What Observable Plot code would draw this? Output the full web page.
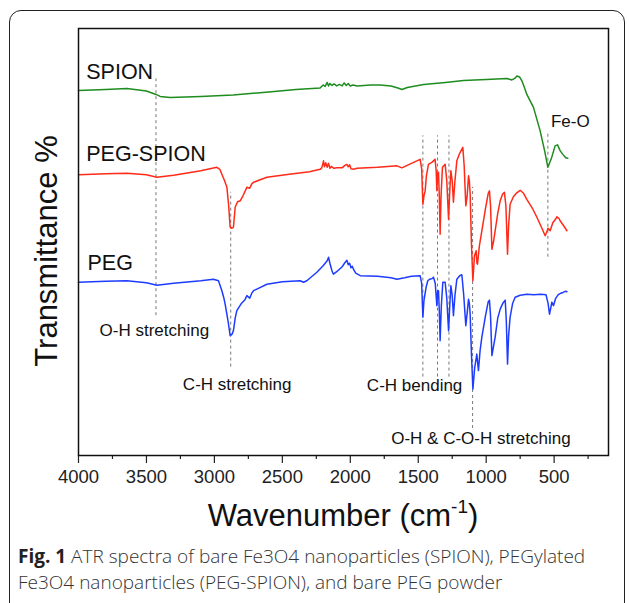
<!DOCTYPE html>
<html>
<head>
<meta charset="utf-8">
<script src="https://cdn.jsdelivr.net/npm/d3@7"></script>
<script src="https://cdn.jsdelivr.net/npm/@observablehq/plot@0.6"></script>
<style>
  html, body { margin: 0; padding: 0; background: #fff; width: 629px; height: 603px; overflow: hidden; }
  #wrap { position: relative; width: 629px; height: 603px; }
  #border { position: absolute; left: 9px; top: 10px; width: 616px; height: 650px; border: 1.5px solid #222; border-radius: 12px; box-sizing: border-box; pointer-events: none; }
  #chart { position: absolute; left: 0; top: 0; }
  #caption { position: absolute; left: 18px; top: 543px; width: 605px; font-family: "Open Sans", sans-serif; font-size: 19px; line-height: 26px; color: #333; white-space: nowrap; }
  #caption .lead { font-weight: 700; color: #222; }
  #caption .body { font-weight: 300; }
</style>
</head>
<body>
<div id="wrap">
  <div id="chart"></div>
  <div id="border"></div>
  <div id="caption"><span class="lead">Fig. 1</span><span class="body"> ATR spectra of bare Fe3O4 nanoparticles (SPION), PEGylated</span><br><span class="body">Fe3O4 nanoparticles (PEG-SPION), and bare PEG powder</span></div>
</div>
<script>
// ---- Data (wavenumber in cm^-1, transmittance in arbitrary offset units) ----
const spionWn = [4000,3800,3644,3500,3430,3399,3325,3100,2862,2600,2400,2222,2200,2185,2170,2160,2150,2135,2120,2100,2080,2060,2045,2030,2015,2000,1980,1950,1850,1781,1700,1650,1620,1580,1460,1300,1167,1000,848,811,790,774,755,737,720,701,652,603,570,546,520,493,475,455,436,415,400];
const spionT  = [73.1,73.3,73.5,73.0,72.3,71.9,71.7,71.9,72.2,72.8,73.3,73.6,74.2,73.9,74.7,74.0,74.5,74.1,74.4,74.0,74.3,74.0,74.6,74.1,74.5,74.0,74.2,74.0,74.2,74.2,74.0,73.6,73.3,73.7,74.3,74.7,75.1,75.3,75.5,75.2,75.5,76.0,75.8,75.0,73.8,72.3,69.7,65.0,61.0,57.7,59.5,62.0,62.2,61.0,60.3,59.6,59.5];

const pegSpionWn = [4000,3800,3644,3500,3423,3300,3100,2982,2960,2945,2925,2908,2895,2884,2870,2860,2847,2830,2810,2790,2761,2740,2725,2712,2614,2450,2300,2222,2210,2197,2190,2180,2170,2160,2150,2140,2120,2100,2060,2040,2025,2015,2005,1995,1977,1950,1800,1700,1657,1620,1550,1486,1475,1466,1458,1449,1440,1425,1400,1376,1368,1363,1357,1351,1345,1339,1332,1322,1302,1290,1277,1268,1260,1250,1241,1230,1216,1195,1172,1162,1150,1140,1130,1124,1118,1108,1098,1086,1074,1068,1064,1050,1032,1005,985,976,968,958,945,934,915,897,880,866,855,843,835,824,800,775,750,725,701,660,627,590,566,555,545,535,529,510,490,480,465,456,430,406];
const pegSpionT  = [56.2,56.4,56.5,56.2,55.7,56.1,57.0,57.7,57.3,56.3,55.0,53.7,50.0,45.7,45.5,45.7,49.7,50.8,51.0,52.0,53.7,53.5,54.4,54.7,55.7,56.3,56.8,57.3,57.6,59.0,57.8,58.6,57.7,58.5,57.5,57.9,57.5,57.6,57.6,58.1,58.3,57.8,58.2,57.4,57.3,57.5,57.7,57.9,58.0,57.6,58.5,59.3,57.5,50.3,52.0,53.0,56.0,58.3,58.7,59.3,57.0,53.0,56.5,56.7,52.0,44.3,52.0,57.7,58.3,55.0,47.3,53.0,57.0,55.0,50.7,55.0,59.0,60.5,61.7,58.0,50.0,52.0,56.0,55.0,52.3,42.0,35.0,40.0,41.0,38.5,38.3,42.0,45.0,49.5,52.5,53.0,50.0,41.3,43.0,45.0,48.5,51.0,52.3,52.7,50.0,40.3,46.0,50.3,51.8,52.6,53.1,52.5,51.3,49.5,47.7,45.5,44.0,44.7,45.5,45.2,45.0,46.6,47.3,47.8,47.5,47.0,46.0,45.0];

const pegWn = [4000,3800,3644,3500,3423,3300,3100,3007,2970,2945,2930,2921,2900,2884,2870,2860,2847,2835,2800,2775,2761,2740,2725,2712,2614,2500,2369,2344,2320,2246,2200,2170,2160,2150,2135,2124,2100,2060,2040,2025,2015,2005,1995,1985,1977,1960,1927,1800,1700,1657,1600,1550,1486,1475,1466,1458,1442,1430,1417,1400,1388,1375,1363,1357,1351,1345,1339,1330,1319,1302,1290,1277,1268,1260,1250,1241,1230,1216,1195,1179,1165,1150,1140,1130,1124,1118,1108,1098,1085,1069,1057,1045,1032,1005,985,976,968,958,945,934,915,897,875,860,852,843,835,824,805,787,750,701,650,600,560,545,534,525,517,505,490,470,450,431,415,406];
const pegT  = [34.7,34.9,35.0,34.6,34.1,34.5,35.0,35.3,35.0,33.0,31.5,30.3,27.0,24.0,24.3,25.0,27.5,29.0,30.5,31.2,32.0,31.5,32.5,33.0,34.3,34.8,35.0,34.7,35.0,36.7,38.0,39.0,39.7,38.5,37.0,36.3,36.8,37.8,38.6,39.1,38.2,38.5,37.6,37.9,37.3,36.5,36.0,35.9,35.6,35.3,35.6,35.9,36.0,34.5,27.7,31.0,33.7,35.0,35.3,35.4,35.7,34.5,30.0,33.0,33.0,29.0,23.0,30.0,34.7,34.7,31.5,25.0,30.0,34.0,32.0,28.0,32.0,35.3,36.0,36.2,32.0,26.0,28.5,31.3,30.5,28.3,20.0,13.3,17.5,20.3,17.0,21.0,23.7,28.0,30.8,31.1,28.0,20.0,22.0,23.7,27.5,29.3,30.6,31.1,27.0,18.3,24.0,27.7,30.5,31.7,32.1,32.3,32.2,32.3,32.2,30.5,28.3,29.5,30.7,30.0,31.4,32.2,32.5,32.7,32.9,32.8];

// Dashed assignment lines
const markerWn     = [3430, 2880, 1466, 1358, 1274, 1100, 546];
const markerTop    = [75.4, 52.7, 64.0, 64.0, 64.0, 53.7, 64.4];
const markerBottom = [28.0, 17.7, 15.7, 15.7, 15.7, 5.4, 39.7];

// Series labels
const seriesNames = ["SPION", "PEG-SPION", "PEG"];
const seriesColors = ["#1e8c1e", "#ff2a18", "#1e3cff"];
const seriesLabelWn = [3943, 3943, 3934];
const seriesLabelT  = [75.3, 58.9, 37.1];

// Band annotations
const bandText = ["O-H stretching", "C-H stretching", "C-H bending", "O-H & C-O-H stretching", "Fe-O"];
const bandWn   = [3845, 3232, 1878, 1699, 524];
const bandT    = [24.0, 13.1, 12.9, 2.3, 65.7];

const majorTicks = [4000, 3500, 3000, 2500, 2000, 1500, 1000, 500];
const minorTicks = [3750, 3250, 2750, 2250, 1750, 1250, 750, 250];

// ---- Build tables ----
const rows = [];
[[spionWn, spionT], [pegSpionWn, pegSpionT], [pegWn, pegT]].forEach(([w, t], i) => {
  w.forEach((x, j) => rows.push({series: seriesNames[i], wn: x, t: t[j]}));
});
const markers = markerWn.map((x, i) => ({wn: x, y1: markerBottom[i], y2: markerTop[i]}));
const seriesLabels = seriesNames.map((s, i) => ({text: s, wn: seriesLabelWn[i], t: seriesLabelT[i]}));
const bands = bandText.map((s, i) => ({text: s, wn: bandWn[i], t: bandT[i]}));

const W = 629, H = 540;
const chart = Plot.plot({
  width: W,
  height: H,
  marginLeft: 78,
  marginRight: 21,
  marginTop: 28,
  marginBottom: H - 455,
  style: {fontFamily: "'Liberation Sans', Arial, sans-serif", color: "#222", background: "transparent", overflow: "visible"},
  x: {domain: [4000, 100]},
  y: {domain: [0, 85.5], axis: null},
  color: {domain: seriesNames, range: seriesColors},
  marks: [
    Plot.ruleX(markers, {x: "wn", y1: "y1", y2: "y2", stroke: "#777", strokeWidth: 1, strokeDasharray: "3,3"}),
    Plot.line(rows, {x: "wn", y: "t", z: "series", stroke: "series", strokeWidth: 1.5, curve: "linear"}),
    Plot.text(seriesLabels, {x: "wn", y: "t", text: "text", textAnchor: "start", lineAnchor: "bottom", fontSize: 21.5, fill: "#111"}),
    Plot.text(bands, {x: "wn", y: "t", text: "text", textAnchor: "start", lineAnchor: "bottom", fontSize: 17, fill: "#111"}),
    Plot.axisX({ticks: minorTicks, tickSize: 4, tickFormat: () => "", label: null, strokeWidth: 1.2}),
    Plot.axisX({ticks: majorTicks, tickSize: 8, tickPadding: 6, tickFormat: d => String(d), fontSize: 18.5, label: null, strokeWidth: 1.2}),
    Plot.frame({stroke: "#111", strokeWidth: 1.5})
  ]
});
document.getElementById("chart").appendChild(chart);

// Axis titles
const svg = d3.select(chart);
const xt = svg.append("text")
  .attr("x", 343).attr("y", 526)
  .attr("text-anchor", "middle")
  .style("font-family", "'Liberation Sans', Arial, sans-serif")
  .style("font-size", "31px").attr("fill", "#111");
xt.append("tspan").text("Wavenumber (cm");
xt.append("tspan").attr("dy", -13).style("font-size", "19px").text("-1");
xt.append("tspan").attr("dy", 13).text(")");

svg.append("text")
  .attr("transform", "translate(57,251) rotate(-90)")
  .attr("text-anchor", "middle")
  .style("font-family", "'Liberation Sans', Arial, sans-serif")
  .style("font-size", "31px").attr("fill", "#111")
  .text("Transmittance %");
</script>
</body>
</html>
